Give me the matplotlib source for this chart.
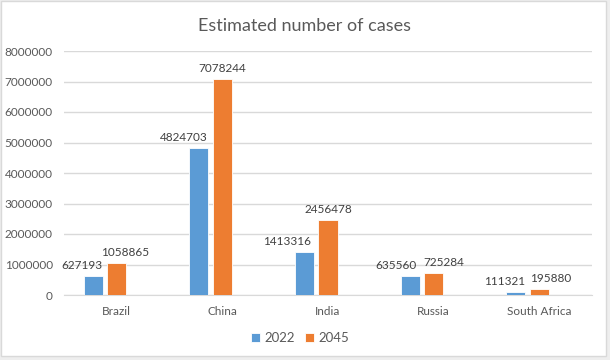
import matplotlib
matplotlib.use("Agg")
import matplotlib.pyplot as plt
from matplotlib.patches import Rectangle
import numpy as np

# data
countries = ["Brazil", "China", "India", "Russia", "South Africa"]
years = ["2022", "2045"]
cases_2022 = [627193, 4824703, 1413316, 635560, 111321]
cases_2045 = [1058865, 7078244, 2456478, 725284, 195880]
yticks = [0, 1000000, 2000000, 3000000, 4000000, 5000000, 6000000, 7000000, 8000000]

# label nudges (pixels) so neighbouring labels don't collide
nudge_2022 = [-11, -15, -17, -14, -11]
nudge_2045 = [8, 0, 0, 10, 11]

plt.rcParams['font.family'] = ['Lato', 'DejaVu Sans']
txt = '#595959'

fig = plt.figure(figsize=(6.1, 3.6), dpi=100, facecolor='#eeeeee')
# white chart area with thin border
fig.patches.append(Rectangle((0.5 / 610, 4 / 360), 605 / 610, 355.5 / 360, transform=fig.transFigure,
                             facecolor='white', edgecolor='#d9d9d9', linewidth=1, zorder=-10))

ax = fig.add_axes([64 / 610, 1 - 295 / 360, 528 / 610, 244 / 360])
ax.set_facecolor('none')
ax.set_zorder(1)

x = np.arange(len(countries))
w = 0.18
step = 0.223
b1 = ax.bar(x - step, cases_2022, w, color='#5b9bd5', edgecolor='white', linewidth=0.6, label=years[0], zorder=3)
b2 = ax.bar(x, cases_2045, w, color='#ed7d31', edgecolor='white', linewidth=0.6, label=years[1], zorder=3)

for bars, nud in ((b1, nudge_2022), (b2, nudge_2045)):
    for r, dx in zip(bars, nud):
        ax.annotate(str(int(r.get_height())), (r.get_x() + r.get_width() / 2, r.get_height()),
                    xytext=(dx, 5), textcoords='offset pixels', ha='center', va='bottom',
                    fontsize=8.5, color='#404040')

ax.set_xlim(-0.5, len(countries) - 0.5)
ax.set_ylim(0, 8000000)
ax.set_yticks(yticks)
ax.set_yticklabels([str(v) for v in yticks])
ax.set_xticks(x)
ax.set_xticklabels(countries)
ax.tick_params(axis='both', length=0, labelsize=8.5, labelcolor=txt)
ax.tick_params(axis='y', pad=8)
ax.tick_params(axis='x', pad=8)
ax.grid(axis='y', color='#d9d9d9', linewidth=1, zorder=0)
for s in ['top', 'right', 'left']:
    ax.spines[s].set_visible(False)
ax.spines['bottom'].set_color('#d9d9d9')

fig.text(305 / 610, 1 - 26 / 360, "Estimated number of cases", ha='center', va='center', fontsize=13, color=txt)

fig.legend(handles=[b1, b2], labels=years, loc='center', bbox_to_anchor=(300 / 610, 1 - 338 / 360),
           ncol=2, frameon=False, fontsize=9.5, labelcolor=txt, handlelength=0.7, handleheight=0.7,
           handletextpad=0.3, columnspacing=0.8)

plt.savefig('out.png', dpi=100, facecolor=fig.get_facecolor())
plt.close()
